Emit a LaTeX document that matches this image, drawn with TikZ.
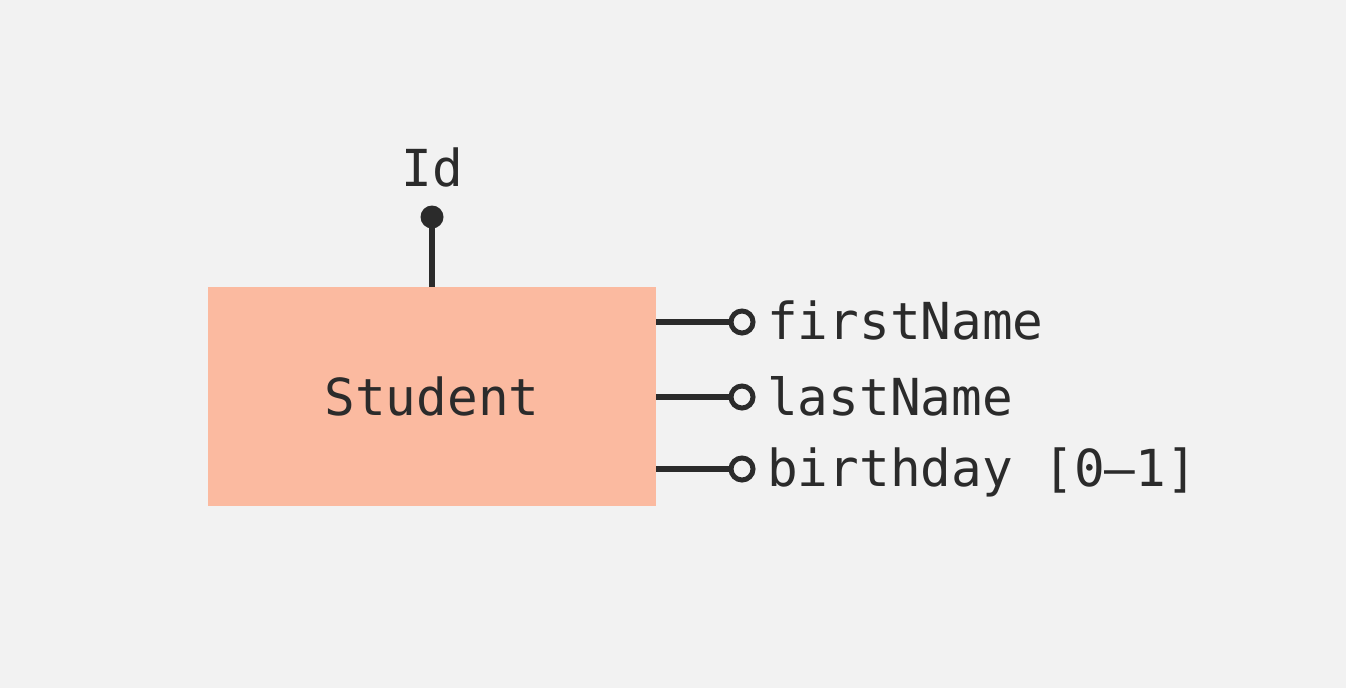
\documentclass[tikz,border=0pt]{standalone}
\usepackage{fontspec}
\setmonofont{DejaVu Sans Mono}
\definecolor{bg}{HTML}{F2F2F2}
\definecolor{ink}{HTML}{2B2B2B}
\definecolor{salmon}{HTML}{FBBAA0}
\tikzset{entity/.style = {fill=salmon, rectangle, inner sep=0pt, minimum width=448pt, minimum height=219pt, text=ink, font=\ttfamily\fontsize{51}{61}\selectfont},
         attr/.style = {inner sep=0pt, anchor=base west, text=ink, font=\ttfamily\fontsize{51}{61}\selectfont},
         link/.style = {draw=ink, line width=5.5pt},
         opt/.style = {draw=ink, fill=bg, line width=5pt, circle, inner sep=0pt, minimum size=22pt},
         key/.style = {fill=ink, circle, inner sep=0pt, minimum size=23pt}}
\begin{document}
\begin{tikzpicture}[x=1pt,y=-1pt]
    \useasboundingbox[fill=bg](0,0)rectangle(1346,688);
    \node[entity](student)at(432,396.5){Student};
    \node[key](iddot)at(432,217){};
    \node[attr, anchor=base](id)at(432,186){Id};
    \draw[link](student.north)--(iddot.center);
    \node[opt](o1)at(742,322){};
    \node[opt](o2)at(742,397){};
    \node[opt](o3)at(742,469){};
    \draw[link](student.east|-o1)--(o1.west);
    \draw[link](student.east|-o2)--(o2.west);
    \draw[link](student.east|-o3)--(o3.west);
    \node[attr](firstname)at(767,339){firstName};
    \node[attr](lastname)at(767,415){lastName};
    \node[attr](birthday)at(767,486){birthday [0–1]};
\end{tikzpicture}
\end{document}
